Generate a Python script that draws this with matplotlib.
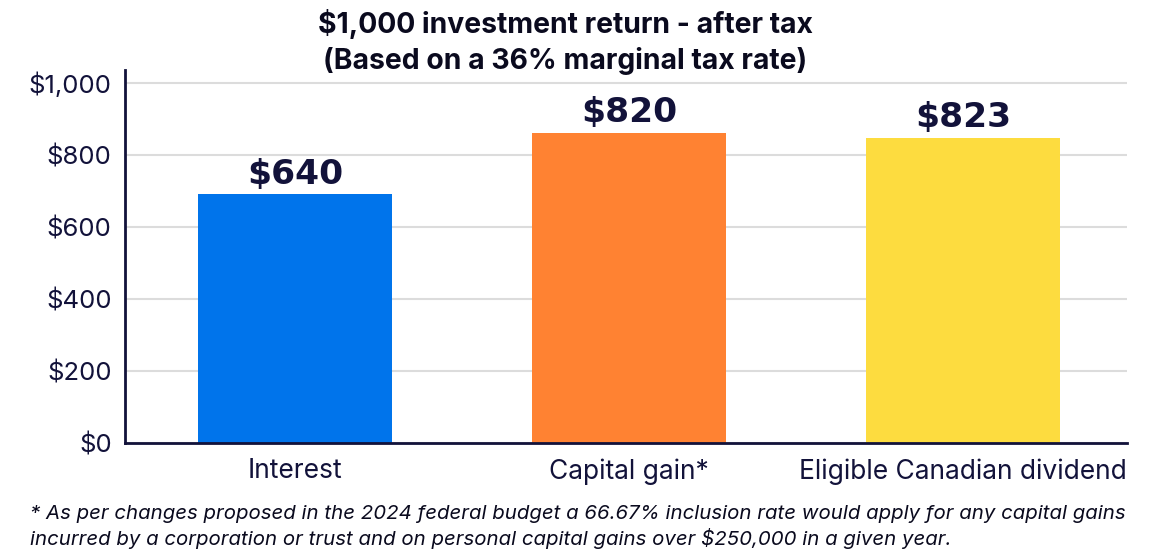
import matplotlib
matplotlib.use("Agg")
import matplotlib.pyplot as plt
from matplotlib.ticker import FuncFormatter

# data (bar heights as drawn, labels as printed)
categories = ["Interest", "Capital gain*", "Eligible Canadian dividend"]
bar_values = [690, 861, 847]
value_labels = ["$640", "$820", "$823"]
bar_colors = ["#0074EB", "#FF8232", "#FDDC3F"]
yticks = [0, 200, 400, 600, 800, 1000]

title = "$1,000 investment return - after tax\n(Based on a 36% marginal tax rate)"
footnote = ("* As per changes proposed in the 2024 federal budget a 66.67% inclusion rate would apply for any capital gains\n"
            "incurred by a corporation or trust and on personal capital gains over $250,000 in a given year.")

NAVY = "#12123a"

plt.rcParams["font.family"] = ["Inter", "DejaVu Sans"]

fig = plt.figure(figsize=(11.55, 5.56), dpi=100)
ax = fig.add_axes([125 / 1155, 1 - 443 / 556, (1127 - 125) / 1155, (443 - 70) / 556])

x = range(len(categories))
ax.bar(x, bar_values, width=0.58, color=bar_colors, zorder=3)
for xi, v, lab in zip(x, bar_values, value_labels):
    ax.text(xi, v + 10, lab, ha="center", va="bottom", fontsize=24.8, fontweight="bold",
            family="DejaVu Sans", color=NAVY)

ax.set_xlim(-0.51, 2.49)
ax.set_ylim(0, 1035)
ax.set_yticks(yticks)
ax.yaxis.set_major_formatter(FuncFormatter(lambda v, _: f"${v:,.0f}"))
ax.set_xticks(list(x))
ax.set_xticklabels(categories)
ax.tick_params(axis="both", length=0, colors=NAVY)
ax.tick_params(axis="y", pad=9.5, labelsize=18.5)
ax.tick_params(axis="x", pad=11, labelsize=19)
ax.grid(axis="y", color="#dcdcdc", lw=1.5, zorder=0)
for s in ["top", "right"]:
    ax.spines[s].set_visible(False)
for s in ["left", "bottom"]:
    ax.spines[s].set_color(NAVY)
    ax.spines[s].set_linewidth(2)
    ax.spines[s].set_zorder(4)

fig.text(565 / 1155, 1 - 42 / 556, title, ha="center", va="center", fontsize=20.4,
         fontweight="bold", color="#0a0a1e", linespacing=1.4)
fig.text(30 / 1155, 1 - 527 / 556, footnote, ha="left", va="center", fontsize=14.7,
         style="italic", color="#0a0a1e", linespacing=1.28)

fig.savefig("out.png", dpi=100)
